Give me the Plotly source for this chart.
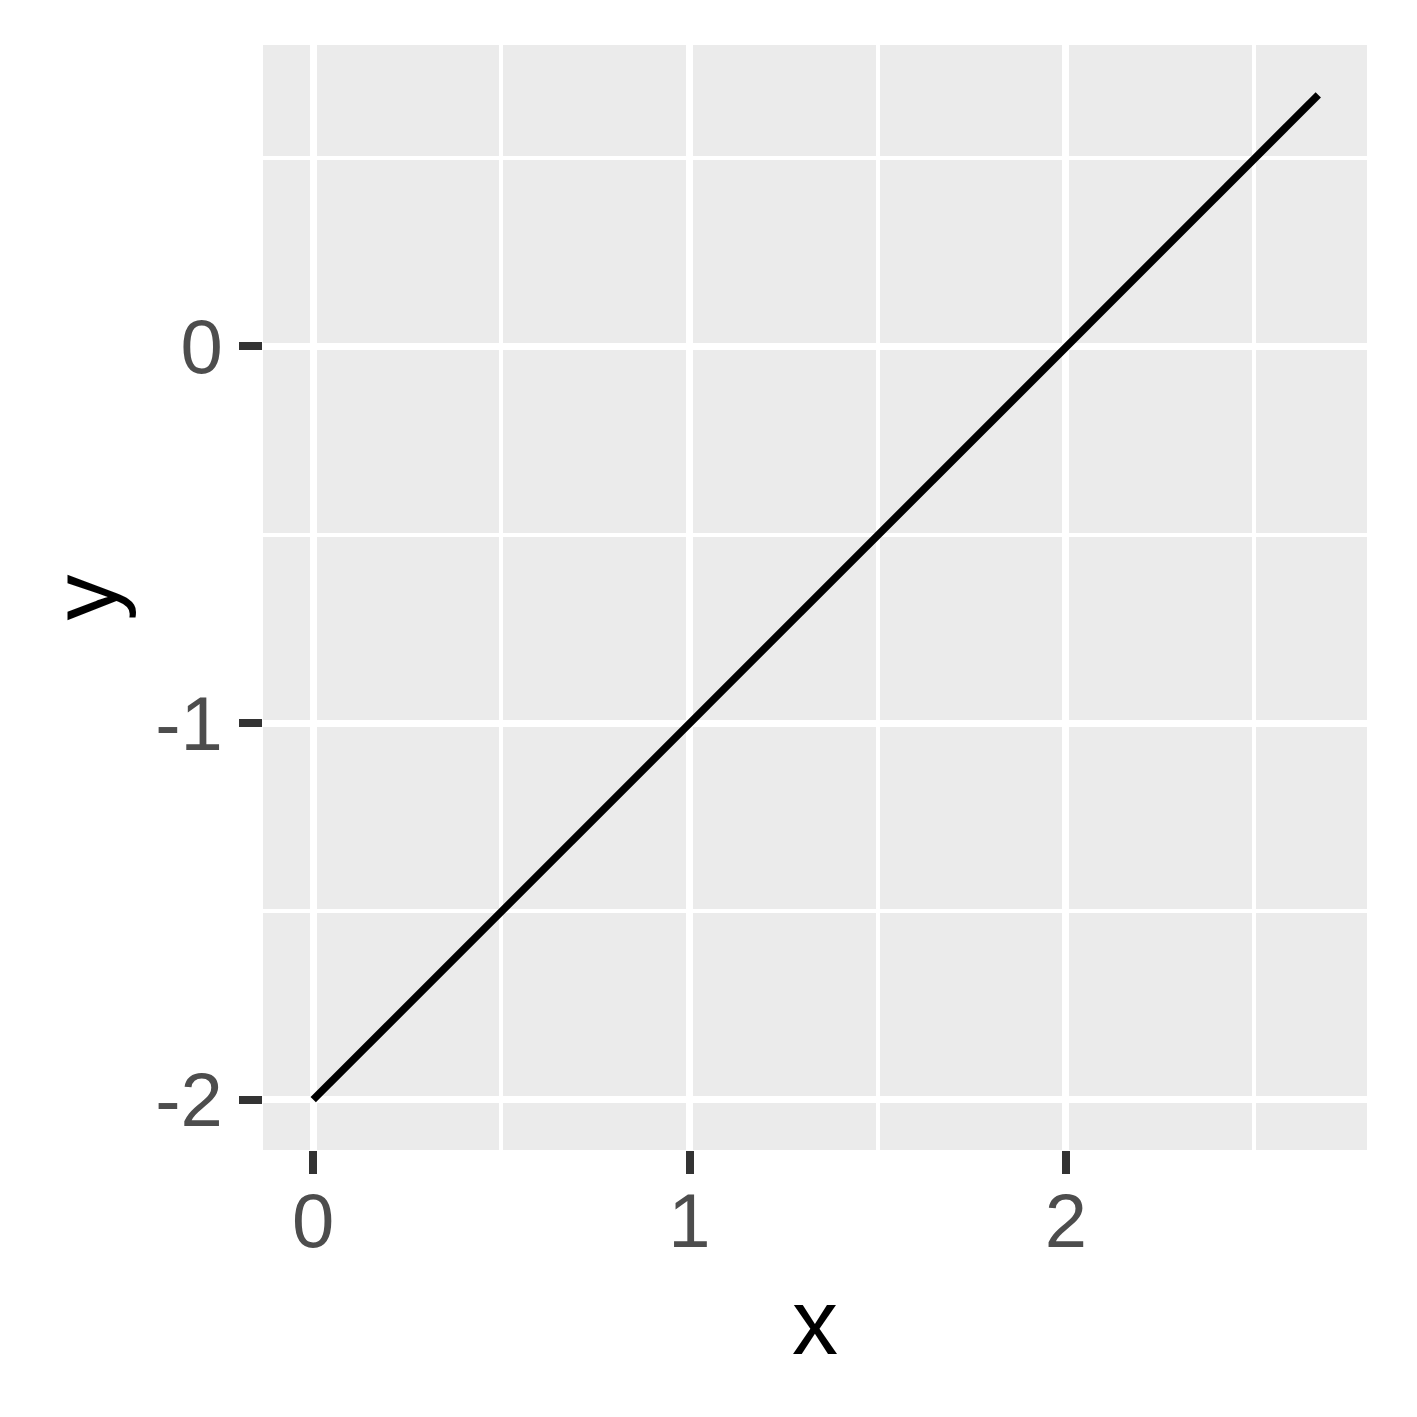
import plotly.graph_objects as go

x_vals = [0, 0.5, 1.0, 1.5, 2.0, 2.5, 2.671]
y_vals = [-2.0, -1.5, -1.0, -0.5, 0.0, 0.5, 0.668]
x_ticks = [0, 1, 2]
y_ticks = [-2, -1, 0]
x_tick_text = ["0", "1", "2"]
y_tick_text = ["-2", "-1", "0"]

fig = go.Figure()
fig.add_trace(go.Scatter(x=x_vals, y=y_vals, mode="lines",
                         line=dict(color="black", width=7.5), showlegend=False))

font_family = "Liberation Sans, Arial, sans-serif"
fig.update_layout(
    width=1417, height=1417,
    margin=dict(l=255, r=58, t=37, b=275),
    paper_bgcolor="white", plot_bgcolor="#EBEBEB",
    font=dict(family=font_family),
)
fig.update_xaxes(
    range=[-0.1335, 2.8005],
    tickvals=x_ticks, ticktext=x_tick_text,
    tickfont=dict(size=76, color="#4D4D4D"),
    ticks="outside", ticklen=23, tickwidth=8, tickcolor="#333333",
    ticklabelstandoff=-18,
    showgrid=True, gridcolor="white", gridwidth=7,
    minor=dict(dtick=0.5, tick0=0, showgrid=True, gridcolor="white", gridwidth=4, ticks=""),
    zeroline=False, showline=False,
    title=dict(text="x", font=dict(size=92, color="black"), standoff=27),
)
fig.update_yaxes(
    range=[-2.1335, 0.8005],
    tickvals=y_ticks, ticktext=y_tick_text,
    tickfont=dict(size=76, color="#4D4D4D"),
    ticks="outside", ticklen=23, tickwidth=8, tickcolor="#333333",
    ticklabelstandoff=1,
    showgrid=True, gridcolor="white", gridwidth=7,
    minor=dict(dtick=0.5, tick0=0, showgrid=True, gridcolor="white", gridwidth=4, ticks=""),
    zeroline=False, showline=False,
    title=dict(text="y", font=dict(size=92, color="black"), standoff=7),
)
fig.write_html("out.html")
